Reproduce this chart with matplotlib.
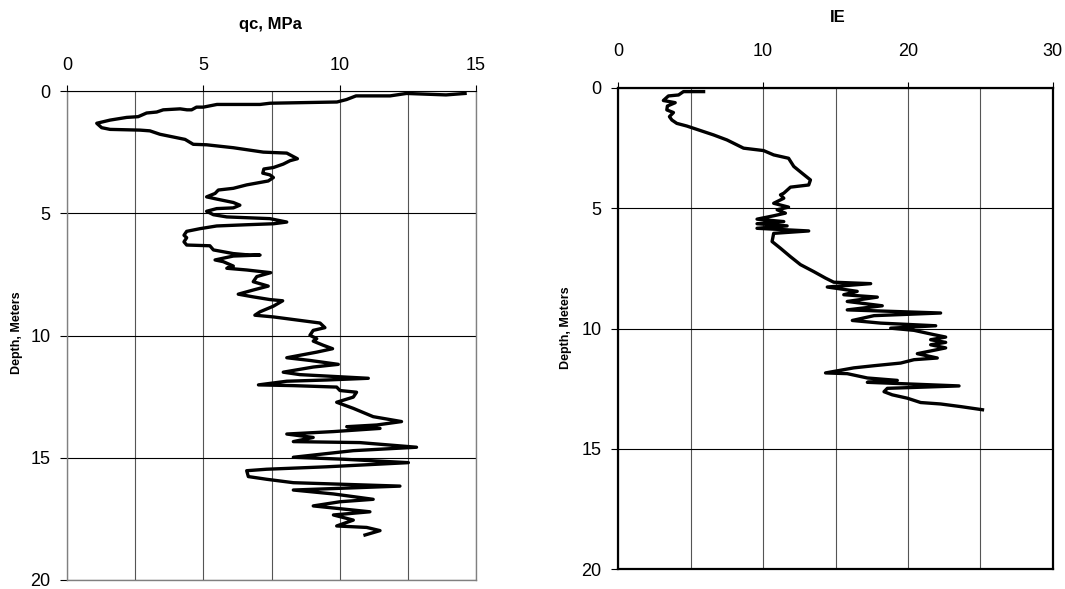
import numpy as np
import matplotlib
matplotlib.use("Agg")
import matplotlib.pyplot as plt
from matplotlib.ticker import MultipleLocator

plt.rcParams['font.family'] = ['Liberation Sans', 'DejaVu Sans']

# cone tip resistance qc (MPa) vs depth (m)
qc = [14.6, 13.9, 12.45, 11.85, 10.6, 10.25, 9.9, 7.45, 7.08, 5.5, 5.0, 4.75, 4.57, 4.4, 4.15,
      3.53, 3.29, 2.92, 2.61, 2.19, 1.58, 1.09, 1.27, 1.58, 2.68, 3.04, 3.41, 4.02, 4.33, 4.63,
      5.12, 6.1, 7.2, 8.06, 8.45, 8.18, 7.93, 7.57, 7.22, 7.18, 7.44, 7.57, 7.38, 6.59, 6.1,
      5.55, 5.43, 5.12, 5.49, 6.1, 6.34, 6.1, 5.49, 5.12, 5.37, 5.86, 7.44, 8.06, 7.57, 6.59,
      5.49, 4.88, 4.39, 4.29, 4.39, 4.29, 4.39, 5.24, 5.37, 6.1, 6.71, 7.08, 6.1, 5.43, 5.73,
      6.1, 5.86, 6.59, 7.47, 6.96, 6.83, 7.38, 6.83, 6.28, 6.83, 7.44, 7.91, 7.57, 7.08, 6.89,
      7.57, 8.54, 9.28, 9.46, 9.03, 8.91, 9.16, 9.03, 9.4, 9.74, 9.16, 8.06, 8.91, 9.95, 9.03,
      7.93, 8.54, 9.89, 11.05, 9.52, 8.06, 7.02, 8.3, 9.89, 10.01, 10.62, 10.5, 9.89, 10.5,
      11.23, 12.27, 11.36, 10.26, 11.48, 9.77, 8.06, 9.03, 8.3, 10.74, 12.82, 10.5, 8.3, 10.13,
      12.52, 9.52, 7.32, 6.59, 6.65, 7.32, 8.3, 12.21, 8.3, 9.77, 11.23, 10.01, 9.03, 11.11,
      9.77, 10.5, 9.89, 10.99, 11.48, 10.93]
qc_depth = [0.1, 0.16, 0.1, 0.2, 0.2, 0.35, 0.45, 0.5, 0.55, 0.55, 0.66, 0.66, 0.77, 0.77, 0.73,
            0.77, 0.86, 0.9, 1.05, 1.08, 1.19, 1.32, 1.5, 1.57, 1.6, 1.63, 1.77, 1.91, 1.98, 2.18,
            2.2, 2.32, 2.5, 2.54, 2.77, 2.85, 2.99, 3.13, 3.19, 3.36, 3.43, 3.54, 3.68, 3.84, 3.98,
            4.05, 4.19, 4.33, 4.42, 4.56, 4.67, 4.78, 4.81, 4.92, 5.06, 5.15, 5.22, 5.36, 5.43, 5.47,
            5.52, 5.63, 5.74, 5.9, 6.0, 6.17, 6.3, 6.33, 6.5, 6.65, 6.71, 6.71, 6.75, 6.91, 6.98,
            7.16, 7.25, 7.32, 7.43, 7.59, 7.8, 7.98, 8.14, 8.31, 8.42, 8.53, 8.58, 8.8, 9.03, 9.17,
            9.24, 9.38, 9.49, 9.68, 9.79, 9.99, 10.13, 10.23, 10.4, 10.54, 10.68, 10.91, 11.02, 11.18, 11.29,
            11.5, 11.6, 11.68, 11.75, 11.82, 11.87, 12.02, 12.05, 12.11, 12.25, 12.32, 12.52, 12.73, 12.98,
            13.32, 13.52, 13.66, 13.73, 13.8, 13.93, 14.03, 14.17, 14.34, 14.38, 14.57, 14.71, 14.98, 15.06,
            15.2, 15.37, 15.47, 15.53, 15.77, 15.88, 16.02, 16.16, 16.32, 16.48, 16.7, 16.8, 16.97, 17.21,
            17.34, 17.55, 17.79, 17.85, 17.98, 18.16]

# IE vs depth (m)
ie = [5.89, 4.5, 4.16, 3.46, 3.11, 3.93, 3.39, 3.35, 3.81, 3.53, 3.7, 4.04, 4.73, 5.43, 6.58,
      7.51, 8.65, 10.03, 10.73, 11.76, 12.12, 12.69, 13.27, 13.15, 11.89, 11.43, 11.2, 11.43, 10.73,
      11.76, 10.97, 11.54, 10.73, 9.58, 11.43, 9.58, 11.66, 9.58, 13.15, 10.73, 10.62, 11.2, 11.89,
      12.58, 13.5, 14.31, 14.88, 17.43, 14.43, 16.5, 15.57, 17.89, 15.81, 18.23, 15.81, 22.26, 17.66,
      16.16, 18.12, 21.92, 18.81, 20.42, 21.8, 22.61, 21.57, 22.61, 21.57, 22.61, 20.65, 22.03, 20.42,
      19.5, 17.66, 16.26, 14.31, 15.81, 17.2, 19.27, 17.2, 23.53, 18.58, 18.35, 18.92, 19.96, 20.88,
      22.26, 23.66, 25.15]
ie_depth = [0.15, 0.15, 0.29, 0.33, 0.52, 0.61, 0.75, 0.91, 1.02, 1.19, 1.33, 1.47, 1.58, 1.72, 1.95,
            2.16, 2.5, 2.6, 2.78, 2.92, 3.26, 3.54, 3.82, 4.03, 4.12, 4.37, 4.44, 4.58, 4.79,
            4.95, 5.06, 5.2, 5.31, 5.45, 5.55, 5.64, 5.73, 5.83, 5.94, 6.04, 6.38, 6.66, 7.01,
            7.34, 7.63, 7.9, 8.07, 8.13, 8.27, 8.45, 8.59, 8.69, 8.87, 9.05, 9.22, 9.35, 9.46,
            9.66, 9.77, 9.88, 9.98, 10.07, 10.25, 10.35, 10.46, 10.57, 10.67, 10.8, 11.04, 11.22, 11.29,
            11.43, 11.54, 11.63, 11.84, 11.87, 12.05, 12.15, 12.23, 12.38, 12.48, 12.62, 12.75, 12.89, 13.07,
            13.13, 13.24, 13.37]

W, H = 1065, 589
fig = plt.figure(figsize=(W / 100, H / 100), dpi=100)

ax1 = fig.add_axes([67 / W, 1 - 580 / H, (476 - 67) / W, (580 - 91) / H])
ax2 = fig.add_axes([618.3 / W, 1 - 569.3 / H, (1052.7 - 618.3) / W, (569.3 - 88) / H])


def style(ax, xmax, xmaj, xmin, spine_col, spine_w, xpad):
    ax.set_xlim(0, xmax)
    ax.set_ylim(20, 0)
    ax.xaxis.set_major_locator(MultipleLocator(xmaj))
    ax.xaxis.set_minor_locator(MultipleLocator(xmin))
    ax.yaxis.set_major_locator(MultipleLocator(5))
    ax.xaxis.tick_top()
    ax.tick_params(axis='x', which='major', direction='out', length=4, width=0.8,
                   labelsize=13, pad=xpad, colors='black')
    ax.tick_params(axis='x', which='minor', length=0)
    ax.tick_params(axis='y', direction='out', length=5, width=0.8, labelsize=13, pad=7)
    ax.grid(True, axis='x', which='both', color='#555555', linewidth=0.8)
    ax.grid(True, axis='y', which='major', color='black', linewidth=0.8)
    ax.set_axisbelow(True)
    for s in ax.spines.values():
        s.set_color(spine_col)
        s.set_linewidth(spine_w)


style(ax1, 15, 5, 2.5, '#808080', 1.0, 8)
ax1.spines['top'].set_color('black')
ax1.spines['top'].set_linewidth(0.8)
style(ax2, 30, 10, 5, 'black', 1.6, 16)

ax1.plot(qc, qc_depth, color='black', linewidth=2.4, solid_joinstyle='round')
ax2.plot(ie, ie_depth, color='black', linewidth=2.4, solid_joinstyle='round')

fig.text(270 / W, 1 - 24 / H, 'qc, MPa', ha='center', va='center', fontsize=12, fontweight='bold')
fig.text(838 / W, 1 - 18 / H, 'IE', ha='center', va='center', fontsize=12, fontweight='bold')
fig.text(17 / W, 1 - 333 / H, 'Depth, Meters', ha='center', va='center', rotation=90,
         fontsize=9, fontweight='bold')
fig.text(566 / W, 1 - 328 / H, 'Depth, Meters', ha='center', va='center', rotation=90,
         fontsize=9, fontweight='bold')

fig.savefig('out.png', dpi=100)
